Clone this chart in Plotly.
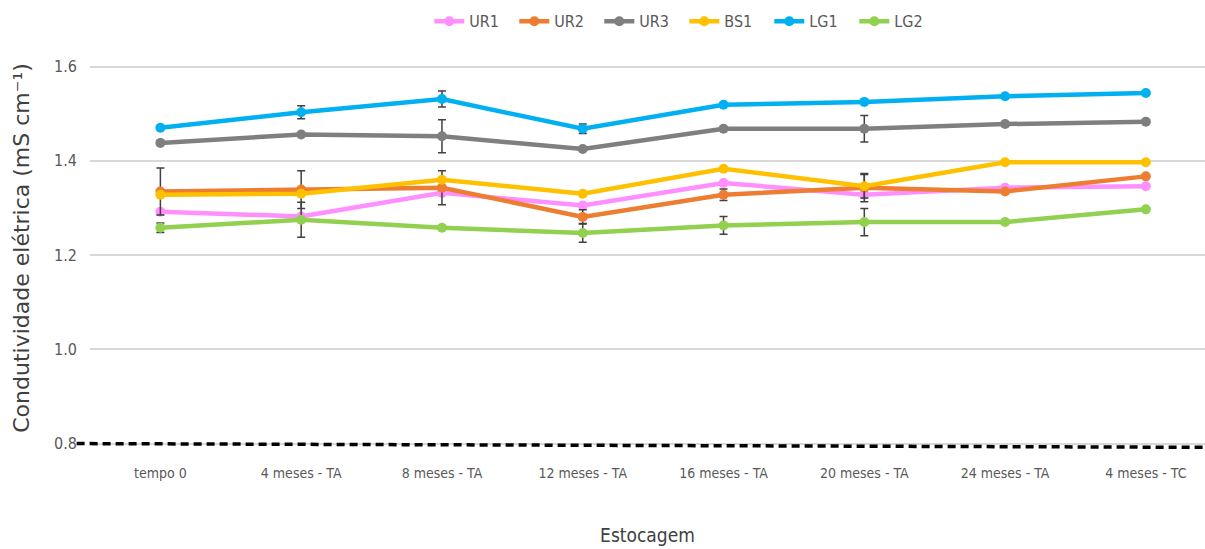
import plotly.graph_objects as go

# Storage periods (x categories)
estocagem = ["tempo 0", "4 meses - TA", "8 meses - TA", "12 meses - TA",
             "16 meses - TA", "20 meses - TA", "24 meses - TA", "4 meses - TC"]

# Electrical conductivity (mS cm-1) per sample
ur1 = [1.292, 1.282, 1.332, 1.305, 1.353, 1.328, 1.343, 1.346]
ur2 = [1.335, 1.339, 1.343, 1.281, 1.328, 1.343, 1.335, 1.367]
ur3 = [1.438, 1.456, 1.452, 1.425, 1.468, 1.468, 1.478, 1.483]
bs1 = [1.328, 1.330, 1.360, 1.330, 1.383, 1.346, 1.397, 1.397]
lg1 = [1.470, 1.503, 1.531, 1.468, 1.519, 1.525, 1.537, 1.544]
lg2 = [1.258, 1.275, 1.258, 1.247, 1.263, 1.270, 1.270, 1.297]

# Standard deviations (0 = no visible bar)
ur1_sd = [0, 0, 0, 0, 0, 0, 0, 0]
ur2_sd = [0.050, 0.040, 0.036, 0.015, 0.012, 0.030, 0, 0]
ur3_sd = [0, 0, 0.035, 0, 0, 0.028, 0, 0]
bs1_sd = [0, 0, 0, 0, 0, 0.025, 0, 0]
lg1_sd = [0, 0.014, 0.017, 0.010, 0, 0, 0, 0]
lg2_sd = [0.010, 0.037, 0, 0.020, 0.019, 0.029, 0, 0]

series = [
    ("UR1", ur1, ur1_sd, "#FF8FFF"),
    ("UR2", ur2, ur2_sd, "#ED7D31"),
    ("UR3", ur3, ur3_sd, "#7F7F7F"),
    ("BS1", bs1, bs1_sd, "#FFC000"),
    ("LG1", lg1, lg1_sd, "#00B0F0"),
    ("LG2", lg2, lg2_sd, "#92D050"),
]

narrow = "DejaVu Sans Condensed, Liberation Sans Narrow, sans-serif"

fig = go.Figure()
for name, vals, sd, color in series:
    fig.add_trace(go.Scatter(
        x=estocagem, y=vals, name=name, mode="lines+markers",
        line=dict(color=color, width=4.5),
        marker=dict(color=color, size=10),
        error_y=dict(type="data", array=sd, visible=True,
                     color="#404040", thickness=1.5, width=4),
    ))

# Dashed reference line at 0.8 along the bottom of the plot
fig.add_shape(type="line", xref="paper", yref="y",
              x0=-0.012, x1=1.0, y0=0.8, y1=0.792,
              line=dict(color="black", width=3.5, dash="8px,5px"))

fig.update_layout(
    width=1205, height=549,
    margin=dict(l=90, r=0, t=43, b=96, autoexpand=False),
    paper_bgcolor="white", plot_bgcolor="white",
    font=dict(family=narrow, color="#595959", size=14),
    legend=dict(orientation="h", x=0.533, xanchor="center", y=1.053, yanchor="middle",
                font=dict(family=narrow, size=16, color="#595959"),
                entrywidth=40, entrywidthmode="pixels", tracegroupgap=0),
    showlegend=True,
)

fig.update_xaxes(
    type="category", range=[-0.5, 7.42],
    showgrid=False, showline=False, zeroline=False, ticks="",
    ticklabelstandoff=10,
    tickfont=dict(family=narrow, size=14, color="#595959"),
    title=dict(text="Estocagem", font=dict(family=narrow, size=19, color="#404040"),
               standoff=48),
)
fig.update_yaxes(
    range=[0.78, 1.65], tickvals=[0.8, 1.0, 1.2, 1.4, 1.6],
    ticktext=["0.8", "1.0", "1.2", "1.4", "1.6"],
    showgrid=True, gridcolor="#D9D9D9", gridwidth=1.5,
    showline=False, zeroline=False, ticks="", ticklabelstandoff=12,
    tickfont=dict(family=narrow, size=16, color="#595959"),
    title=dict(text="Condutividade elétrica (mS cm⁻¹)",
               font=dict(family="DejaVu Sans, sans-serif", size=22, color="#404040"),
               standoff=18),
)

fig.write_html("out.html")
